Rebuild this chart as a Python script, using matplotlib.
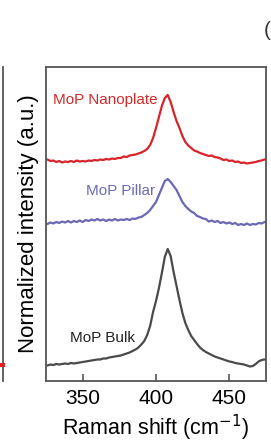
import numpy as np
import matplotlib
matplotlib.use("Agg")
import matplotlib.pyplot as plt
from matplotlib.lines import Line2D

plt.rcParams['font.family'] = ['Liberation Sans', 'DejaVu Sans']

# Raman shift grid (cm^-1) and spectra (arbitrary units, offset-stacked)
shift_start, shift_end = 324, 476

nanoplate_px = [160, 159.5, 161, 160.5, 162, 161, 162.5, 161.5, 162, 161, 162, 160.5, 161.5, 161, 161.5, 160.5,
                161, 160, 160.5, 159.5, 160, 159, 159.5, 158.5, 159, 158, 158, 156.5, 157, 155.5, 155, 154.5,
                153.5, 152.5, 151, 149, 145, 138, 128, 117, 106, 98, 95, 102, 112, 121, 128, 136, 142, 145.5,
                148, 150.5, 151.5, 153, 154, 155, 156, 155.5, 157, 157.5, 158.5, 160, 159.5, 161, 160.5, 162,
                161.5, 163, 162.5, 163.5, 163, 162.5, 162, 161, 160.5, 159.5, 159]
pillar_px = [223, 224, 222.5, 223.5, 222, 223, 221.5, 222.5, 221, 222.5, 221, 222, 220.5, 222, 220, 221,
             219.5, 220.5, 219, 220.5, 219.5, 221, 219.5, 220.5, 219, 220.5, 219.5, 220, 219, 220, 218.5, 219,
             217.5, 217, 215, 213, 210, 206, 202, 195, 188, 181, 179, 182, 186, 190, 196, 202, 206, 209,
             211.5, 213, 216, 217, 218.5, 219, 221.5, 220.5, 222, 221, 223, 222, 223.5, 222.5, 224, 223,
             225, 224, 225, 223.5, 225, 224, 224.5, 223, 223.5, 222, 222]
bulk_px = [365, 365.5, 364.5, 365, 364, 364.5, 364, 363.5, 364, 363, 363.5, 363, 362.5, 362, 361.5, 361,
           360.5, 360, 359.5, 359.5, 358.5, 358.5, 357.5, 357, 356.5, 356, 355.5, 354.5, 353.5, 352.5, 351, 349.5,
           347.5, 344.5, 341, 335, 326, 312, 301, 288, 273, 257, 249, 256, 272, 286, 300, 313, 323, 330,
           336, 340, 344, 347.5, 350, 352, 353.5, 355, 356.5, 357.5, 358.5, 359.5, 360.5, 361.5, 362, 363,
           363.5, 364, 364.5, 365.5, 366.5, 366, 364, 361.5, 360, 359.5, 359.5]

labels = ["MoP Nanoplate", "MoP Pillar", "MoP Bulk"]
colors = ["#d8232a", "#6a68b5", "#4a4a4a"]
text_colors = ["#d42a2a", "#6b6ab5", "#222222"]
xticks = [350, 400, 450]

W, H = 271, 448
fig = plt.figure(figsize=(W / 100, H / 100), dpi=100)
ax_l, ax_r, ax_t, ax_b = 46, 266, 67, 381
ax = fig.add_axes([ax_l / W, 1 - ax_b / H, (ax_r - ax_l) / W, (ax_b - ax_t) / H])

base = 381.0
for series, c in zip([nanoplate_px, pillar_px, bulk_px], colors):
    x = np.linspace(shift_start, shift_end, len(series))
    y = base - np.array(series)
    ax.plot(x, y, color=c, lw=1.6, solid_joinstyle='round')

ax.set_xlim(325, 475)
ax.set_ylim(0, 314)
ax.set_yticks([])
ax.set_xticks(xticks)
ax.set_xticklabels([str(t) for t in xticks], fontsize=15)
ax.tick_params(axis='x', direction='in', length=5, width=1.2, color='#555555', pad=6)
for s in ax.spines.values():
    s.set_color('#555555')
    s.set_linewidth(1.3)

ax.set_xlabel("Raman shift (cm$^{-1}$)", fontsize=15.5, labelpad=3)
ax.set_ylabel("Normalized intensity (a.u.)", fontsize=16, labelpad=5)

# annotations (positions in axes data coords)
ax.text(329.5, base - 100, labels[0], color=text_colors[0], fontsize=11, va='center', ha='left')
ax.text(352, base - 191, labels[1], color=text_colors[1], fontsize=11, va='center', ha='left')
ax.text(341.5, base - 338, labels[2], color=text_colors[2], fontsize=11, va='center', ha='left')

# neighbouring panel remnants
fig.add_artist(Line2D([3 / W, 3 / W], [1 - 67 / H, 1 - 381 / H], color='#555555', lw=1.3))
fig.add_artist(Line2D([0, 3 / W], [1 - 365 / H, 1 - 365 / H], color='#d8232a', lw=3))
fig.text(264 / W, 1 - 30 / H, "(", fontsize=15, va='center', ha='left', color='#333333')

fig.savefig("out.png", dpi=100)
